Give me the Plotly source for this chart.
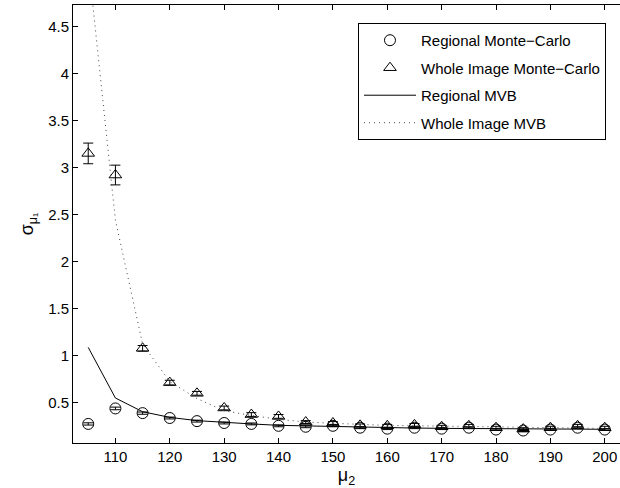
import plotly.graph_objects as go

mu2 = [105, 110, 115, 120, 125, 130, 135, 140, 145, 150, 155, 160, 165, 170, 175, 180, 185, 190, 195, 200]

regional_mc = [0.27, 0.435, 0.385, 0.333, 0.30, 0.28, 0.27, 0.25, 0.24, 0.25, 0.23, 0.22, 0.23, 0.22, 0.23, 0.21, 0.20, 0.21, 0.23, 0.21]
regional_mc_err = [0.012, 0.014, 0.012, 0.01, 0.01, 0.01, 0.01, 0.01, 0.01, 0.01, 0.01, 0.01, 0.01, 0.01, 0.01, 0.01, 0.01, 0.01, 0.01, 0.01]

whole_mc = [3.15, 2.92, 1.075, 0.71, 0.596, 0.44, 0.37, 0.35, 0.29, 0.28, 0.255, 0.25, 0.26, 0.24, 0.25, 0.23, 0.215, 0.23, 0.25, 0.23]
whole_mc_err = [0.11, 0.105, 0.03, 0.025, 0.02, 0.02, 0.02, 0.02, 0.015, 0.015, 0.015, 0.015, 0.015, 0.015, 0.015, 0.015, 0.015, 0.015, 0.015, 0.015]

regional_mvb = [1.085, 0.546, 0.40, 0.34, 0.305, 0.285, 0.27, 0.255, 0.248, 0.24, 0.235, 0.23, 0.226, 0.223, 0.22, 0.218, 0.217, 0.215, 0.214, 0.213]
whole_mvb = [5.2, 2.44, 1.12, 0.72, 0.54, 0.41, 0.36, 0.32, 0.29, 0.275, 0.265, 0.255, 0.25, 0.245, 0.24, 0.235, 0.23, 0.228, 0.225, 0.222]

names = ["Regional Monte\u2212Carlo", "Whole Image Monte\u2212Carlo", "Regional MVB", "Whole Image MVB"]

fig = go.Figure()
fig.add_trace(go.Scatter(
    x=mu2, y=regional_mc, mode="markers", name=names[0], legendgroup="a",
    marker=dict(symbol="circle-open", size=11, color="black", line=dict(width=1, color="black")),
    error_y=dict(type="data", array=regional_mc_err, color="black", thickness=1, width=5),
))
fig.add_trace(go.Scatter(
    x=mu2, y=whole_mc, mode="markers", name=names[1], legendgroup="b",
    marker=dict(symbol="triangle-up-open", size=11, color="black", line=dict(width=1, color="black")),
    error_y=dict(type="data", array=whole_mc_err, color="black", thickness=1, width=5),
))
fig.add_trace(go.Scatter(
    x=mu2, y=regional_mvb, mode="lines", name=names[2], legendgroup="c",
    line=dict(color="black", width=1),
))
fig.add_trace(go.Scatter(
    x=mu2, y=whole_mvb, mode="lines", name=names[3], legendgroup="d",
    line=dict(color="#444444", width=1, dash="1px,4px"),
))

fig.update_layout(
    width=620, height=488,
    margin=dict(l=73, r=0, t=5, b=45),
    paper_bgcolor="white", plot_bgcolor="white",
    font=dict(family="Liberation Sans, Arial, sans-serif", size=15, color="black"),
    showlegend=True,
    legend=dict(
        x=0.521, y=0.959, xanchor="left", yanchor="top",
        bordercolor="black", borderwidth=1, bgcolor="white",
        font=dict(size=15), traceorder="grouped", tracegroupgap=5,
        itemwidth=52,
    ),
    xaxis=dict(
        range=[102.2, 202.8], tickmode="array", tickvals=[110, 120, 130, 140, 150, 160, 170, 180, 190, 200],
        ticks="inside", ticklen=5, tickcolor="black", showline=True, linecolor="black", linewidth=1,
        mirror="ticks", showgrid=False, zeroline=False,
        title=dict(text="\u03bc<sub>2</sub>", standoff=0),
    ),
    yaxis=dict(
        range=[0.067, 4.73], tickmode="array", tickvals=[0.5, 1, 1.5, 2, 2.5, 3, 3.5, 4, 4.5],
        ticktext=["0.5", "1", "1.5", "2", "2.5", "3", "3.5", "4", "4.5"],
        ticks="inside", ticklen=5, tickcolor="black", showline=True, linecolor="black", linewidth=1,
        showgrid=False, zeroline=False,
        title=dict(text="\u03c3<sub>\u03bc\u2081</sub>", standoff=9),
    ),
)

fig.write_html("out.html")
